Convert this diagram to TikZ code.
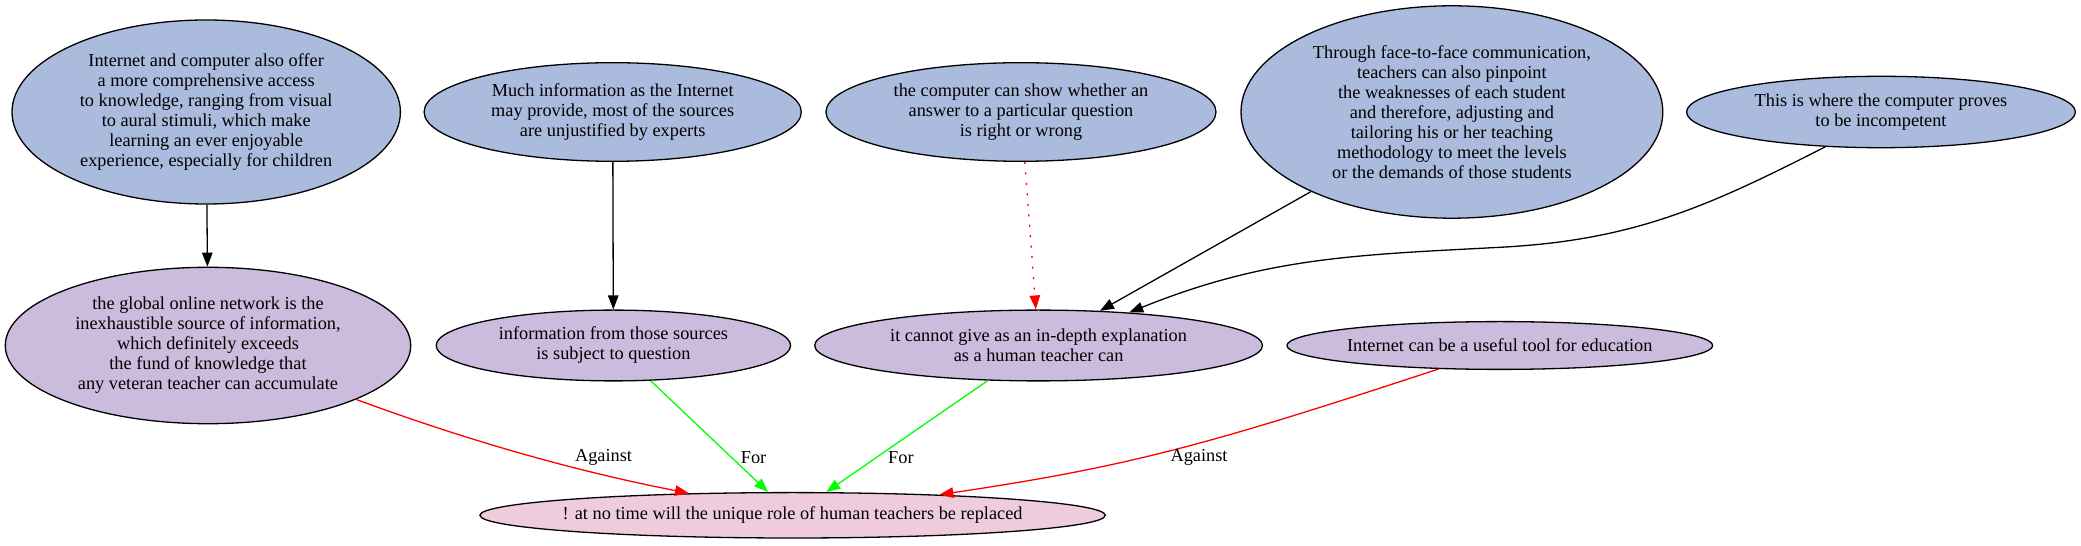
\documentclass[tikz,border=0pt]{standalone}
\usepackage{fontspec}
\setmainfont{Liberation Serif}
\usetikzlibrary{shapes.geometric,arrows.meta}
\definecolor{topfill}{RGB}{170,187,221}
\definecolor{midfill}{RGB}{203,187,221}
\definecolor{botfill}{RGB}{238,204,221}
\definecolor{edgered}{RGB}{255,0,0}
\definecolor{edgegreen}{RGB}{0,255,0}
\begin{document}
\begin{tikzpicture}[x=1pt,y=1pt,
  every node/.style={font=\fontsize{18.3}{20}\selectfont},
  ell/.style={ellipse, draw=black, line width=1.3pt, inner sep=0pt},
  topn/.style={ell, fill=topfill},
  midn/.style={ell, fill=midfill},
  botn/.style={ell, fill=botfill},
  txt/.style={align=center, inner sep=0pt},
  conn/.style={line width=1.3pt, -{Triangle[length=14pt,width=10.5pt]}},
  elabel/.style={inner sep=0pt}
]
\useasboundingbox (0,0) rectangle (2081,546);

% top row
\node[topn, minimum width=388.4pt, minimum height=184pt,
  label={[txt]center:{Internet and computer also offer\\a more comprehensive access\\to knowledge, ranging from visual\\to aural stimuli, which make\\learning an ever enjoyable\\experience, especially for children}}] (a1) at (206.2,434) {};
\node[topn, minimum width=377.2pt, minimum height=98.6pt,
  label={[txt]center:{Much information as the Internet\\may provide, most of the sources\\are unjustified by experts}}] (a2) at (612.7,434) {};
\node[topn, minimum width=390pt, minimum height=98.6pt,
  label={[txt]center:{the computer can show whether an\\answer to a particular question\\is right or wrong}}] (a3) at (1021,434) {};
\node[topn, minimum width=421.8pt, minimum height=212.4pt,
  label={[txt]center:{Through face-to-face communication,\\teachers can also pinpoint\\the weaknesses of each student\\and therefore, adjusting and\\tailoring his or her teaching\\methodology to meet the levels\\or the demands of those students}}] (a4) at (1451.9,434) {};
\node[topn, minimum width=388.8pt, minimum height=71.4pt,
  label={[txt]center:{This is where the computer proves\\to be incompetent}}] (a5) at (1881,434) {};

% middle row
\node[midn, minimum width=405.4pt, minimum height=156.4pt,
  label={[txt]center:{the global online network is the\\inexhaustible source of information,\\which definitely exceeds\\the fund of knowledge that\\any veteran teacher can accumulate}}] (b1) at (208,200.5) {};
\node[midn, minimum width=354.4pt, minimum height=70.8pt,
  label={[txt]center:{information from those sources\\is subject to question}}] (b2) at (613.4,200.5) {};
\node[midn, minimum width=447.8pt, minimum height=70.8pt,
  label={[txt]center:{it cannot give as an in-depth explanation\\as a human teacher can}}] (b3) at (1038.6,200.5) {};
\node[midn, minimum width=425.8pt, minimum height=47.8pt,
  label={[txt]center:{Internet can be a useful tool for education}}] (b4) at (1499.8,200.5) {};

% bottom
\node[botn, minimum width=625.4pt, minimum height=45.4pt,
  label={[txt]center:{! at no time will the unique role of human teachers be replaced}}] (c) at (792.6,30.7) {};

% connectors
\draw[conn] (a1) -- (b1);
\draw[conn] (a2) -- (b2);
\draw[conn, edgered, dash pattern=on 2pt off 8.5pt] (a3) -- (b3);
\draw[conn] (a4) -- (b3);
\coordinate (k) at (1500,298.7);
\draw[conn] (a5.212) to[out=207,in=3] (k) to[out=183,in=22] (b3.20);

\draw[conn, edgered] (b1.-20.5) .. controls (466.5,105.9) and (572.2,75.6) .. (c.168.2);
\draw[conn, edgegreen] (b2) -- (c);
\draw[conn, edgegreen] (b3) -- (c);
\draw[conn, edgered] (b4.201.4) .. controls (1211.8,102.5) and (1131.8,79.8) .. (c.8.2);

% edge labels
\node[elabel] (l1) at (603.5,88.2) {Against};
\node[elabel] (l2) at (753.6,88.8) {For};
\node[elabel] (l3) at (900.9,88.8) {For};
\node[elabel] (l4) at (1199,88.3) {Against};
\end{tikzpicture}
\end{document}
